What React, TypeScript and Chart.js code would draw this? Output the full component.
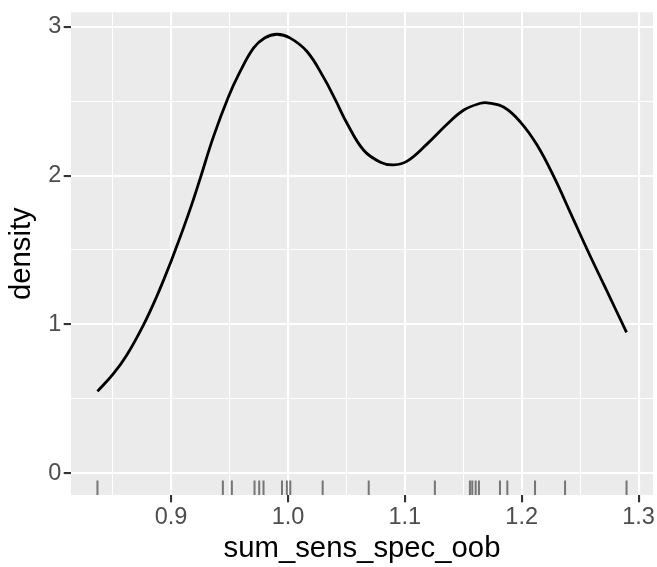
import React, { useEffect, useRef } from "react";
import { Chart, registerables } from "chart.js";

Chart.register(...registerables);

const densityX = [0.837, 0.8505, 0.862, 0.8762, 0.8877, 0.8977, 0.9034, 0.9105, 0.9177, 0.9248, 0.9362, 0.9491, 0.9591, 0.9705, 0.98, 0.9906, 1.002, 1.0163, 1.0305, 1.0405, 1.0506, 1.0648, 1.0791, 1.0905, 1.102, 1.1191, 1.1363, 1.1505, 1.1648, 1.1706, 1.1848, 1.1991, 1.2134, 1.2277, 1.242, 1.2563, 1.2705, 1.2897];
const densityY = [0.549, 0.666, 0.792, 0.993, 1.187, 1.378, 1.495, 1.645, 1.806, 1.978, 2.26, 2.53, 2.7, 2.857, 2.925, 2.95, 2.924, 2.834, 2.66, 2.51, 2.35, 2.17, 2.09, 2.072, 2.097, 2.213, 2.347, 2.441, 2.486, 2.489, 2.459, 2.358, 2.202, 1.989, 1.744, 1.498, 1.263, 0.946];

const rugX = [0.837, 0.9443, 0.952, 0.9714, 0.9754, 0.9791, 0.9949, 0.9991, 1.002, 1.0297, 1.0691, 1.1257, 1.1557, 1.1577, 1.1606, 1.1634, 1.1814, 1.1877, 1.2114, 1.2371, 1.2897];

const xTicks = [0.85, 0.9, 0.95, 1.0, 1.05, 1.1, 1.15, 1.2, 1.25, 1.3];
const yTicks = [0, 0.5, 1, 1.5, 2, 2.5, 3];

const xTitle = "sum_sens_spec_oob";
const yTitle = "density";

const isMajorX = (v: number) => Math.abs(v * 10 - Math.round(v * 10)) < 1e-6;
const isMajorY = (v: number) => Math.abs(v - Math.round(v)) < 1e-6;

export default function App() {
  const ref = useRef<HTMLCanvasElement | null>(null);

  useEffect(() => {
    if (!ref.current) return;
    const allX = [...densityX, ...rugX];
    const xmin0 = Math.min(...allX);
    const xmax0 = Math.max(...allX);
    const xpad = (xmax0 - xmin0) * 0.05;
    const ymin0 = 0;
    const ymax0 = Math.max(...densityY);
    const ypad = (ymax0 - ymin0) * 0.05;
    const xMin = xmin0 - xpad;
    const xMax = xmax0 + xpad;
    const yMin = ymin0 - ypad;
    const yMax = ymax0 + ypad;
    const rugY = yMin + 0.015 * (yMax - yMin);

    const panelBg = {
      id: "panelBg",
      beforeDraw(chart: any) {
        const { ctx, chartArea } = chart;
        ctx.save();
        ctx.fillStyle = "#FFFFFF";
        ctx.fillRect(0, 0, chart.width, chart.height);
        ctx.fillStyle = "#EBEBEB";
        ctx.fillRect(chartArea.left, chartArea.top, chartArea.right - chartArea.left, chartArea.bottom - chartArea.top);
        ctx.restore();
      },
    };

    const chart = new Chart(ref.current, {
      type: "scatter",
      data: {
        datasets: [
          {
            data: densityX.map((x, i) => ({ x, y: densityY[i] })),
            showLine: true,
            borderColor: "#000000",
            borderWidth: 2.8,
            pointRadius: 0,
            pointHoverRadius: 0,
            tension: 0.4,
            fill: false,
          },
          {
            data: rugX.map((x) => ({ x, y: rugY })),
            showLine: false,
            pointStyle: "line",
            rotation: 90,
            pointRadius: 7.3,
            pointHoverRadius: 7.3,
            borderColor: "rgba(0,0,0,0.5)",
            borderWidth: 2,
          },
        ],
      },
      options: {
        animation: false,
        responsive: false,
        events: [],
        layout: { autoPadding: false, padding: { top: 12.3, right: 4, left: 0, bottom: 0 } },
        plugins: {
          legend: { display: false },
          tooltip: { enabled: false },
        },
        scales: {
          x: {
            type: "linear",
            min: xMin,
            max: xMax,
            afterBuildTicks: (scale: any) => {
              scale.ticks = xTicks.map((v) => ({ value: v }));
            },
            afterFit: (scale: any) => {
              scale.height = 72;
              scale.paddingLeft = 0;
              scale.paddingRight = 0;
            },
            border: { display: false },
            grid: {
              color: "#FFFFFF",
              lineWidth: (c: any) => (c.tick && isMajorX(c.tick.value) ? 2.1 : 1.05),
              drawTicks: true,
              tickLength: 7.3,
              tickColor: (c: any) => (c.tick && isMajorX(c.tick.value) ? "#333333" : "rgba(0,0,0,0)"),
              tickWidth: 2.1,
            },
            ticks: {
              autoSkip: false,
              maxRotation: 0,
              padding: 3.5,
              color: "#4D4D4D",
              font: { family: "Liberation Sans, Arial, sans-serif", size: 23.5, lineHeight: 1 },
              callback: (v: any) => (isMajorX(Number(v)) ? Number(v).toFixed(1) : ""),
            },
            title: {
              display: true,
              text: xTitle,
              color: "#000000",
              font: { family: "Liberation Sans, Arial, sans-serif", size: 29.3, lineHeight: 1 },
              padding: { top: 0, bottom: 3 },
            },
          },
          y: {
            type: "linear",
            min: yMin,
            max: yMax,
            afterBuildTicks: (scale: any) => {
              scale.ticks = yTicks.map((v) => ({ value: v }));
            },
            afterFit: (scale: any) => {
              scale.width = 71;
              scale.paddingTop = 0;
              scale.paddingBottom = 0;
            },
            border: { display: false },
            grid: {
              color: "#FFFFFF",
              lineWidth: (c: any) => (c.tick && isMajorY(c.tick.value) ? 2.1 : 1.05),
              drawTicks: true,
              tickLength: 7.3,
              tickColor: (c: any) => (c.tick && isMajorY(c.tick.value) ? "#333333" : "rgba(0,0,0,0)"),
              tickWidth: 2.1,
            },
            ticks: {
              autoSkip: false,
              padding: 2.3,
              color: "#4D4D4D",
              font: { family: "Liberation Sans, Arial, sans-serif", size: 23.5, lineHeight: 1 },
              callback: (v: any) => (isMajorY(Number(v)) ? String(Math.round(Number(v))) : ""),
            },
            title: {
              display: true,
              text: yTitle,
              color: "#000000",
              font: { family: "Liberation Sans, Arial, sans-serif", size: 29.3, lineHeight: 1 },
              padding: { top: 7, bottom: 0 },
            },
          },
        },
      },
      plugins: [panelBg],
    } as any);

    return () => chart.destroy();
  }, []);

  return (
    <div style={{ position: "absolute", left: 0, top: 0, width: 657, height: 567 }}>
      <canvas ref={ref} width={657} height={567} style={{ display: "block" }} />
    </div>
  );
}
